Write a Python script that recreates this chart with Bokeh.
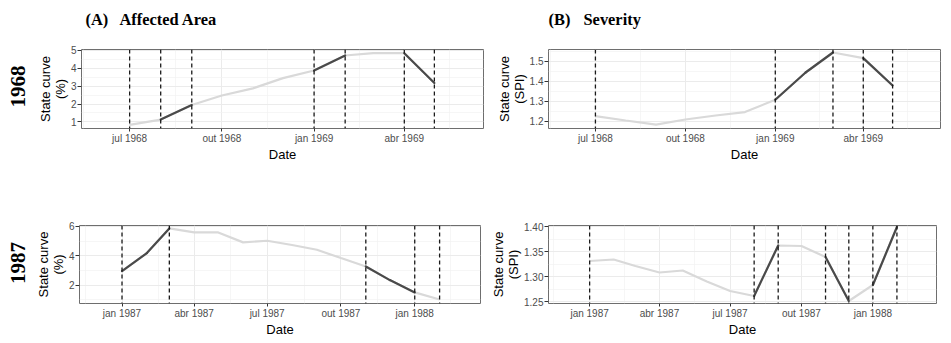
import math
import pandas as pd
from bokeh.plotting import figure
from bokeh.models import Span, FixedTicker, NumeralTickFormatter, Range1d
from bokeh.core.properties import value
from bokeh.layouts import column, row
from bokeh.embed import file_html
from bokeh.resources import INLINE

# ---------------- data ----------------
months_68 = ["1968-07-01", "1968-08-01", "1968-09-01", "1968-10-01", "1968-11-01", "1968-12-01",
             "1969-01-01", "1969-02-01", "1969-03-01", "1969-04-01", "1969-05-01"]
area_68 = [0.83, 1.13, 1.95, 2.48, 2.88, 3.45, 3.88, 4.72, 4.85, 4.85, 3.18]
dark_area_68 = [False, True, False, False, False, False, True, False, False, True]
events_area_68 = ["1968-07-01", "1968-08-01", "1968-09-01", "1969-01-01", "1969-02-01", "1969-04-01", "1969-05-01"]

spi_68 = [1.225, 1.203, 1.182, 1.208, 1.228, 1.245, 1.307, 1.443, 1.543, 1.515, 1.378]
dark_spi_68 = [False, False, False, False, False, False, True, True, False, True]
events_spi_68 = ["1968-07-01", "1969-01-01", "1969-03-01", "1969-04-01", "1969-05-01"]

months_87 = ["1987-01-01", "1987-02-01", "1987-03-01", "1987-04-01", "1987-05-01", "1987-06-01", "1987-07-01",
             "1987-08-01", "1987-09-01", "1987-10-01", "1987-11-01", "1987-12-01", "1988-01-01", "1988-02-01"]
area_87 = [2.95, 4.18, 5.86, 5.59, 5.59, 4.91, 5.02, 4.73, 4.41, 3.84, 3.27, 2.34, 1.50, 1.02]
dark_area_87 = [True, True, False, False, False, False, False, False, False, False, True, True, False]
events_area_87 = ["1987-01-01", "1987-03-01", "1987-11-01", "1988-01-01", "1988-02-01"]

spi_87 = [1.331, 1.334, 1.321, 1.308, 1.312, 1.290, 1.271, 1.261, 1.362, 1.361, 1.339, 1.251, 1.283, 1.399]
dark_spi_87 = [False, False, False, False, False, False, False, True, False, False, True, False, True]
events_spi_87 = ["1987-01-01", "1987-08-01", "1987-09-01", "1987-11-01", "1987-12-01", "1988-01-01", "1988-02-01"]

xrange_68 = ["1968-05-14", "1969-06-19"]
xticks_68 = ["1968-07-01", "1968-10-01", "1969-01-01", "1969-04-01"]
xlabels_68 = ["jul 1968", "out 1968", "jan 1969", "abr 1969"]
xminor_68 = ["1968-05-16", "1968-08-16", "1968-11-16", "1969-02-15", "1969-05-16"]

xrange_87 = ["1986-11-09", "1988-03-23"]
xticks_87 = ["1987-01-01", "1987-04-01", "1987-07-01", "1987-10-01", "1988-01-01"]
xlabels_87 = ["jan 1987", "abr 1987", "jul 1987", "out 1987", "jan 1988"]
xminor_87 = ["1986-11-16", "1987-02-15", "1987-05-16", "1987-08-16", "1987-11-16", "1988-02-15"]

yrange_area_68 = [0.63, 5.056]
yticks_area_68 = [1, 2, 3, 4, 5]
yminor_area_68 = [1.5, 2.5, 3.5, 4.5]
yrange_spi_68 = [1.163, 1.558]
yticks_spi_68 = [1.2, 1.3, 1.4, 1.5]
yminor_spi_68 = [1.25, 1.35, 1.45, 1.55]
yrange_area_87 = [0.745, 6.06]
yticks_area_87 = [2, 4, 6]
yminor_area_87 = [1, 3, 5]
yrange_spi_87 = [1.246, 1.402]
yticks_spi_87 = [1.25, 1.30, 1.35, 1.40]
yminor_spi_87 = [1.275, 1.325, 1.375]

column_titles = ["(A)", "Affected Area", "(B)", "Severity"]
row_titles = ["1968", "1987"]

LIGHT = "#d9d9d9"
DARK = "#4a4a4a"
SANS = "Liberation Sans"
SERIF = "Liberation Serif"


def ms(d):
    return float(pd.Timestamp(d).value // 10**6)


def panel(width, height, mb, xr, xt, xl, xm, yr, yt, ym, yfmt, ylab,
          months, vals, dark, events):
    left, right, top, bottom = mb
    p = figure(width=width, height=height, x_axis_type="datetime", title=None,
               output_backend="svg", toolbar_location=None,
               min_border_left=left, min_border_right=right,
               min_border_top=top, min_border_bottom=bottom,
               x_range=Range1d(ms(xr[0]), ms(xr[1])),
               y_range=Range1d(yr[0], yr[1]))
    p.background_fill_color = "white"
    p.border_fill_color = "white"
    p.outline_line_color = "#6e6e6e"
    p.outline_line_width = 1

    xtick = FixedTicker(ticks=[ms(t) for t in xt], minor_ticks=[ms(t) for t in xm])
    ytick = FixedTicker(ticks=yt, minor_ticks=ym)
    p.xaxis.ticker = xtick
    p.yaxis.ticker = ytick
    p.xgrid.ticker = xtick
    p.ygrid.ticker = ytick
    p.xaxis.major_label_overrides = {ms(t): l for t, l in zip(xt, xl)}
    p.yaxis.formatter = NumeralTickFormatter(format=yfmt)

    for g in (p.xgrid, p.ygrid):
        g.grid_line_color = "#ebebeb"
        g.grid_line_width = 1
        g.minor_grid_line_color = "#f2f2f2"
        g.minor_grid_line_width = 0.7

    for ax in (p.xaxis, p.yaxis):
        ax.axis_line_color = None
        ax.major_tick_line_color = "#333333"
        ax.major_tick_in = 0
        ax.major_tick_out = 3
        ax.minor_tick_line_color = None
        ax.major_label_text_font = SANS
        ax.major_label_text_font_size = "10px"
        ax.major_label_text_color = "#4d4d4d"
        ax.major_label_standoff = 1
        ax.axis_label_text_font = SANS
        ax.axis_label_text_font_size = "13px"
        ax.axis_label_text_font_style = "normal"
        ax.axis_label_text_color = "black"
        ax.axis_label_text_line_height = 1.0
        ax.axis_label_standoff = 0
    p.yaxis.major_tick_out = 4
    p.xaxis.major_label_standoff = 0
    p.xaxis.axis_label = "Date"
    p.yaxis.axis_label = ylab

    x = pd.to_datetime(months)
    p.line(x=x, y=vals, line_color=LIGHT, line_width=2.2)
    x0 = [x[i] for i in range(len(dark)) if dark[i]]
    x1 = [x[i + 1] for i in range(len(dark)) if dark[i]]
    y0 = [vals[i] for i in range(len(dark)) if dark[i]]
    y1 = [vals[i + 1] for i in range(len(dark)) if dark[i]]
    p.segment(x0=x0, y0=y0, x1=x1, y1=y1, line_color=DARK, line_width=2.2, line_cap="round")

    for e in events:
        p.add_layout(Span(location=ms(e), dimension="height", line_color="#1a1a1a",
                          line_width=1.3, line_dash="4 3"))
    return p


def text_strip(width, height):
    p = figure(width=width, height=height, output_backend="svg", toolbar_location=None,
               title=None,
               x_range=Range1d(0, width), y_range=Range1d(0, height),
               x_axis_location=None, y_axis_location=None,
               min_border=0, min_border_left=0, min_border_right=0,
               min_border_top=0, min_border_bottom=0)
    p.grid.visible = False
    p.outline_line_color = None
    p.background_fill_color = "white"
    p.border_fill_color = "white"
    return p


PAGE_BOTTOM = 340
TOP_H = 30
LEFT_W = 28
BODY_H = PAGE_BOTTOM - TOP_H

# top strip with column titles (x = page px; y measured upward from strip bottom)
top = text_strip(950, TOP_H)
top.text(x=[85, 119, 548, 583], y=[TOP_H - 19] * 4, text=column_titles,
         text_font=value(SERIF), text_font_style="bold", text_font_size="16.4px",
         text_color="black", text_baseline="alphabetic", text_align="left")

# left strip with row titles (rotated, reading bottom to top)
left = text_strip(LEFT_W, BODY_H)
left.text(x=[17.5, 17.5], y=[PAGE_BOTTOM - 86, PAGE_BOTTOM - 262.5], text=row_titles,
          angle=math.pi / 2, text_font=value(SERIF), text_font_style="bold",
          text_font_size="21px", text_color="black",
          text_baseline="middle", text_align="center")

a1 = panel(460, 140, (53, 5, 19, 42), xrange_68, xticks_68, xlabels_68, xminor_68,
           yrange_area_68, yticks_area_68, yminor_area_68, "0", "State curve\n(%)",
           months_68, area_68, dark_area_68, events_area_68)
b1 = panel(462, 140, (60, 10, 19, 42), xrange_68, xticks_68, xlabels_68, xminor_68,
           yrange_spi_68, yticks_spi_68, yminor_spi_68, "0.0", "State curve\n(SPI)",
           months_68, spi_68, dark_spi_68, events_spi_68)
a2 = panel(460, 170, (51, 8, 55, 37), xrange_87, xticks_87, xlabels_87, xminor_87,
           yrange_area_87, yticks_area_87, yminor_area_87, "0", "State curve\n(%)",
           months_87, area_87, dark_area_87, events_area_87)
b2 = panel(462, 170, (60, 14, 55, 37), xrange_87, xticks_87, xlabels_87, xminor_87,
           yrange_spi_87, yticks_spi_87, yminor_spi_87, "0.00", "State curve\n(SPI)",
           months_87, spi_87, dark_spi_87, events_spi_87)

layout = column(top, row(left, column(row(a1, b1), row(a2, b2))))
open("out.html", "w").write(file_html(layout, INLINE))
